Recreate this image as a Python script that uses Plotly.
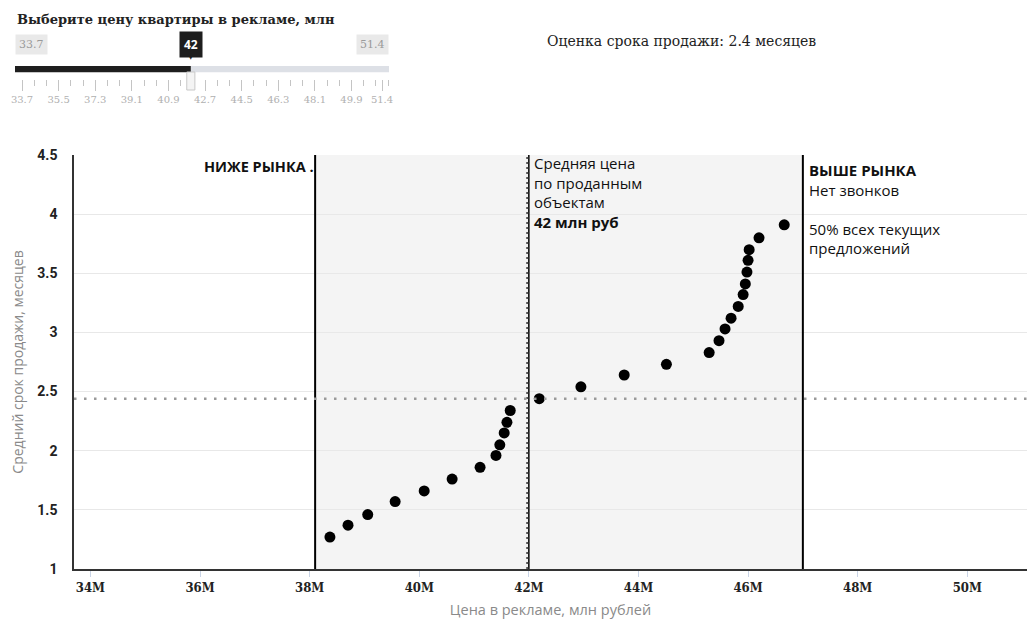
import plotly.graph_objects as go

# ---- data ----
price_mln = [38.37, 38.70, 39.06, 39.56, 40.09, 40.60, 41.11, 41.40, 41.47, 41.55,
             41.60, 41.66, 42.19, 42.95, 43.74, 44.51, 45.29, 45.47, 45.58, 45.69,
             45.82, 45.91, 45.95, 45.98, 46.00, 46.02, 46.20, 46.66]
months = [1.27, 1.37, 1.46, 1.57, 1.66, 1.76, 1.86, 1.96, 2.05, 2.15,
          2.24, 2.34, 2.44, 2.54, 2.64, 2.73, 2.83, 2.93, 3.03, 3.12,
          3.22, 3.32, 3.41, 3.51, 3.61, 3.70, 3.80, 3.91]

x_tickvals = [34, 36, 38, 40, 42, 44, 46, 48, 50]
x_ticktext = ["34M", "36M", "38M", "40M", "42M", "44M", "46M", "48M", "50M"]
y_tickvals = [1, 1.5, 2, 2.5, 3, 3.5, 4, 4.5]
y_ticktext = ["1", "1.5", "2", "2.5", "3", "3.5", "4", "4.5"]

market_low = 38.1
market_avg = 42.0
market_high = 47.0
estimate_months = 2.44

slider_min = 33.7
slider_max = 51.4
slider_value = 42
slider_tickvals = [33.7, 35.5, 37.3, 39.1, 40.9, 42.7, 44.5, 46.3, 48.1, 49.9, 51.4]
slider_ticktext = ["33.7", "35.5", "37.3", "39.1", "40.9", "42.7", "44.5", "46.3", "48.1", "49.9", "51.4"]

SANS = "Open Sans, Noto Sans, sans-serif"
SERIF = "DejaVu Serif, serif"
SERIF_C = "DejaVu Serif Condensed, DejaVu Serif, serif"

fig = go.Figure()

fig.add_trace(go.Scatter(
    x=price_mln, y=months, mode="markers",
    marker=dict(size=11, color="#000000", line=dict(width=0)),
    hoverinfo="skip", showlegend=False, xaxis="x", yaxis="y"))

# invisible trace for slider axis
fig.add_trace(go.Scatter(x=[slider_min, slider_max], y=[0, 0], mode="markers",
                         marker=dict(opacity=0), hoverinfo="skip",
                         showlegend=False, xaxis="x2", yaxis="y2"))

shapes = [
    dict(type="rect", xref="x", yref="y", x0=market_low, x1=market_high, y0=1, y1=4.5,
         fillcolor="#f4f4f4", line=dict(width=0), layer="below"),
    dict(type="line", xref="x", yref="y", x0=market_low, x1=market_low, y0=1, y1=4.5,
         line=dict(color="#000000", width=2)),
    dict(type="line", xref="x", yref="y", x0=market_high, x1=market_high, y0=1, y1=4.5,
         line=dict(color="#000000", width=2)),
    dict(type="line", xref="x", yref="y", x0=market_avg, x1=market_avg, y0=1, y1=4.5,
         line=dict(color="#000000", width=1.5)),
    dict(type="line", xref="x", yref="y", x0=market_avg - 0.03, x1=market_avg - 0.03, y0=1, y1=4.5,
         line=dict(color="#555555", width=2, dash="2px,3px")),
    dict(type="line", xref="x", yref="y", x0=33.7, x1=51.09, y0=estimate_months, y1=estimate_months,
         line=dict(color="#9a9a9a", width=2.5, dash="2.5px,7.5px")),
]

# slider track
track_lo = slider_min - 0.344
track_hi = slider_max + 0.344
shapes += [
    dict(type="rect", xref="x2", yref="y2", x0=slider_value, x1=track_hi, y0=0.36, y1=0.68,
         fillcolor="#dde0e6", line=dict(width=0)),
    dict(type="rect", xref="x2", yref="y2", x0=track_lo, x1=slider_value, y0=0.36, y1=0.68,
         fillcolor="#1e1e1e", line=dict(width=0)),
    dict(type="rect", xref="x2", yref="paper", x0=slider_value - 0.2, x1=slider_value + 0.2,
         y0=(569 - 90) / 569, y1=(569 - 72) / 569,
         fillcolor="#f4f4f4", line=dict(color="#c8c8c8", width=1)),
]

annotations = [
    dict(text="<b>Выберите цену квартиры в рекламе, млн</b>", xref="paper", yref="paper",
         x=0, y=(569 - 20) / 569, xanchor="left", yanchor="middle", showarrow=False,
         font=dict(family=SERIF, size=13, color="#222222")),
    dict(text="33.7", xref="x2", yref="paper", x=track_lo, y=(569 - 44) / 569,
         xanchor="left", yanchor="middle", showarrow=False, bgcolor="#e9e9e9", borderpad=3,
         font=dict(family=SERIF, size=11, color="#9a9a9a")),
    dict(text="51.4", xref="x2", yref="paper", x=track_hi, y=(569 - 44) / 569,
         xanchor="right", yanchor="middle", showarrow=False, bgcolor="#e9e9e9", borderpad=3,
         font=dict(family=SERIF, size=11, color="#9a9a9a")),
    dict(text="<b>42</b>", xref="x2", yref="paper", x=slider_value, y=(569 - 44) / 569,
         xanchor="center", yanchor="middle", showarrow=False, bgcolor="#1e1e1e", borderpad=4,
         font=dict(family=SANS, size=12, color="#ffffff")),
    dict(text="▼", xref="x2", yref="paper", x=slider_value, y=(569 - 57) / 569,
         xanchor="center", yanchor="middle", showarrow=False,
         font=dict(family="DejaVu Sans", size=7, color="#1e1e1e")),
    dict(text="Оценка срока продажи: 2.4 месяцев", xref="paper", yref="paper",
         x=(545 - 15) / 1012, y=(569 - 41) / 569, xanchor="left", yanchor="middle",
         showarrow=False, font=dict(family=SERIF, size=14, color="#222222")),
    dict(text="<b>НИЖЕ РЫНКА .</b>", xref="x", yref="y", x=market_low, y=4.4,
         xanchor="right", yanchor="middle", showarrow=False, xshift=1,
         font=dict(family=SANS, size=14.5, color="#111111")),
    dict(text="Средняя цена<br>по проданным<br>объектам<br><b>42 млн руб</b>",
         xref="x", yref="y", x=market_avg, y=4.5, xanchor="left", yanchor="top",
         align="left", showarrow=False, xshift=3, yshift=4,
         font=dict(family=SANS, size=15, color="#111111")),
    dict(text="<b>ВЫШЕ РЫНКА</b><br>Нет звонков<br><br>50% всех текущих<br>предложений",
         xref="x", yref="y", x=market_high, y=4.5, xanchor="left", yanchor="top",
         align="left", showarrow=False, xshift=4, yshift=-3,
         font=dict(family=SANS, size=15, color="#111111")),
]

fig.update_layout(
    width=1027, height=623,
    margin=dict(l=15, r=0, t=0, b=54, autoexpand=False),
    paper_bgcolor="#ffffff", plot_bgcolor="#ffffff",
    showlegend=False,
    shapes=shapes, annotations=annotations,
    xaxis=dict(domain=[(74 - 15) / 1012, 1], range=[33.7, 51.09],
               tickvals=x_tickvals, ticktext=x_ticktext,
               tickfont=dict(family=SERIF_C, size=13, color="#222222", weight="bold"),
               showgrid=False, zeroline=False, showline=True, linecolor="#333333", linewidth=1.5,
               ticks="outside", ticklen=6, tickcolor="#c9d4e6", tickwidth=1,
               title=dict(text="Цена в рекламе, млн рублей", standoff=11,
                          font=dict(family=SANS, size=14.5, color="#8a8a8a")),
               fixedrange=True, anchor="y", automargin=False),
    yaxis=dict(domain=[0, (569 - 155) / 569], range=[1, 4.5],
               tickvals=y_tickvals, ticktext=y_ticktext,
               tickfont=dict(family="Roboto, sans-serif", size=14, color="#222222", weight="bold"),
               showgrid=True, gridcolor="#e8e8e8", gridwidth=1,
               zeroline=False, showline=True, linecolor="#333333", linewidth=1.5,
               ticks="", ticklabelstandoff=12,
               title=dict(text="Средний срок продажи, месяцев", standoff=10,
                          font=dict(family=SANS, size=14, color="#8a8a8a")),
               fixedrange=True, anchor="x", automargin=False),
    xaxis2=dict(domain=[0, (389 - 15) / 1012], range=[track_lo, track_hi],
                tickvals=slider_tickvals, ticktext=slider_ticktext,
                tickfont=dict(family=SERIF, size=10, color="#b0b0b0"),
                ticks="outside", ticklen=11, tickcolor="#c4c4c4", tickwidth=1,
                minor=dict(tick0=33.7, dtick=0.6, ticks="outside", ticklen=6,
                           tickcolor="#c4c4c4", tickwidth=1),
                showgrid=False, zeroline=False, showline=False,
                anchor="y2", fixedrange=True, automargin=False),
    yaxis2=dict(domain=[(569 - 79) / 569, (569 - 60) / 569], range=[0, 1],
                showticklabels=False, showgrid=False, zeroline=False, showline=False,
                anchor="x2", fixedrange=True, automargin=False),
)

fig.write_html("out.html", config=dict(displayModeBar=False),
               post_script="document.body.style.margin='0';document.body.style.overflow='hidden';")
